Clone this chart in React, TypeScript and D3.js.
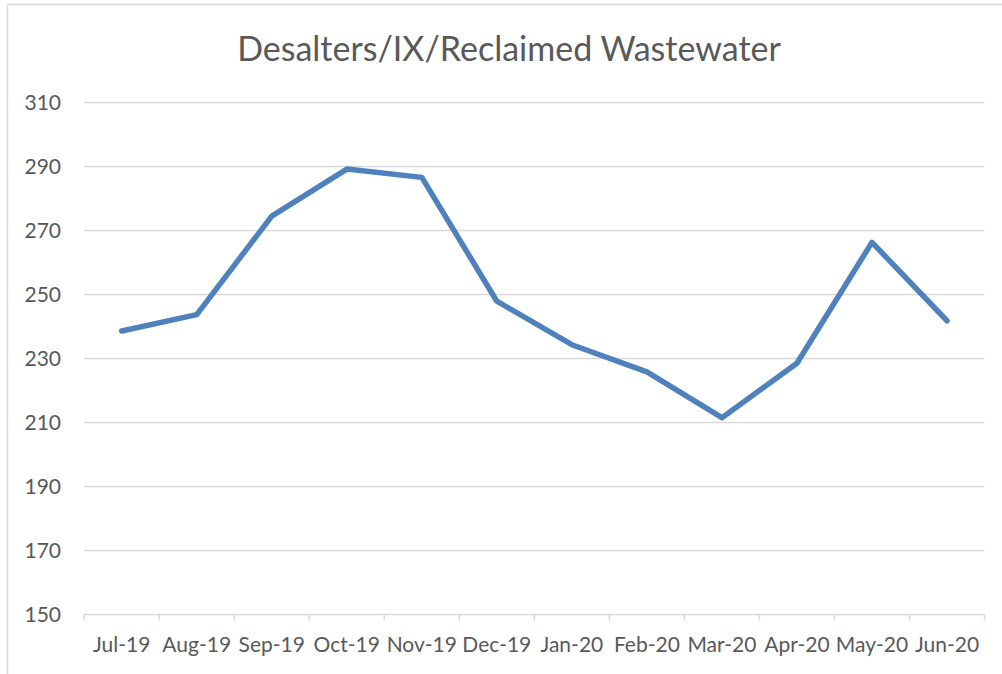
import React from "react";
import * as d3 from "d3";

const categories = ["Jul-19","Aug-19","Sep-19","Oct-19","Nov-19","Dec-19","Jan-20","Feb-20","Mar-20","Apr-20","May-20","Jun-20"];
const values = [238.6, 243.7, 274.5, 289.2, 286.6, 247.9, 234.3, 225.8, 211.5, 228.5, 266.3, 241.8];
const yTicks = [150, 170, 190, 210, 230, 250, 270, 290, 310];
const title = "Desalters/IX/Reclaimed Wastewater";

const W = 1002, H = 674;
const plot = { left: 84.2, right: 984.5, top: 102.5, bottom: 614.5 };
const FONT = "Lato, 'Open Sans', sans-serif";
const TEXT = "#595959";
const GRID = "#d9d9d9";

export default function App() {
  const x = d3.scaleBand<string>().domain(categories).range([plot.left, plot.right]);
  const y = d3.scaleLinear().domain([150, 310]).range([plot.bottom, plot.top]);
  const line = d3.line<number>()
    .x((_, i) => (x(categories[i]) as number) + x.bandwidth() / 2)
    .y((d) => y(d));
  const tickXs = categories.map((c) => x(c) as number).concat([plot.right]);
  return (
    <svg width={W} height={H} style={{ position: "absolute", left: 0, top: 0, background: "#fff" }}>
      <rect x={7.5} y={4.5} width={1020} height={700} fill="#fff" stroke={GRID} strokeWidth={1.5} />
      <text x={509} y={61} textAnchor="middle" fontFamily={FONT} fontSize={34} fill={TEXT}>{title}</text>
      {yTicks.map((t) => (
        <g key={t}>
          {t !== 150 && (
            <line x1={plot.left} x2={plot.right} y1={y(t)} y2={y(t)} stroke={GRID} strokeWidth={1.5} />
          )}
          <text x={61} y={y(t)} dy="0.35em" textAnchor="end" fontFamily={FONT} fontSize={21} fill={TEXT}>{t}</text>
        </g>
      ))}
      <line x1={plot.left} x2={plot.right} y1={y(150)} y2={y(150)} stroke={GRID} strokeWidth={1.5} />
      {tickXs.map((tx, i) => (
        <line key={i} x1={tx} x2={tx} y1={y(150)} y2={y(150) + 6} stroke={GRID} strokeWidth={1.5} />
      ))}
      {categories.map((c) => (
        <text key={c} x={(x(c) as number) + x.bandwidth() / 2} y={652} textAnchor="middle" fontFamily={FONT} fontSize={21} fill={TEXT}>{c}</text>
      ))}
      <path d={line(values) || ""} fill="none" stroke="#4f81bd" strokeWidth={5.5} strokeLinejoin="round" strokeLinecap="round" />
    </svg>
  );
}
